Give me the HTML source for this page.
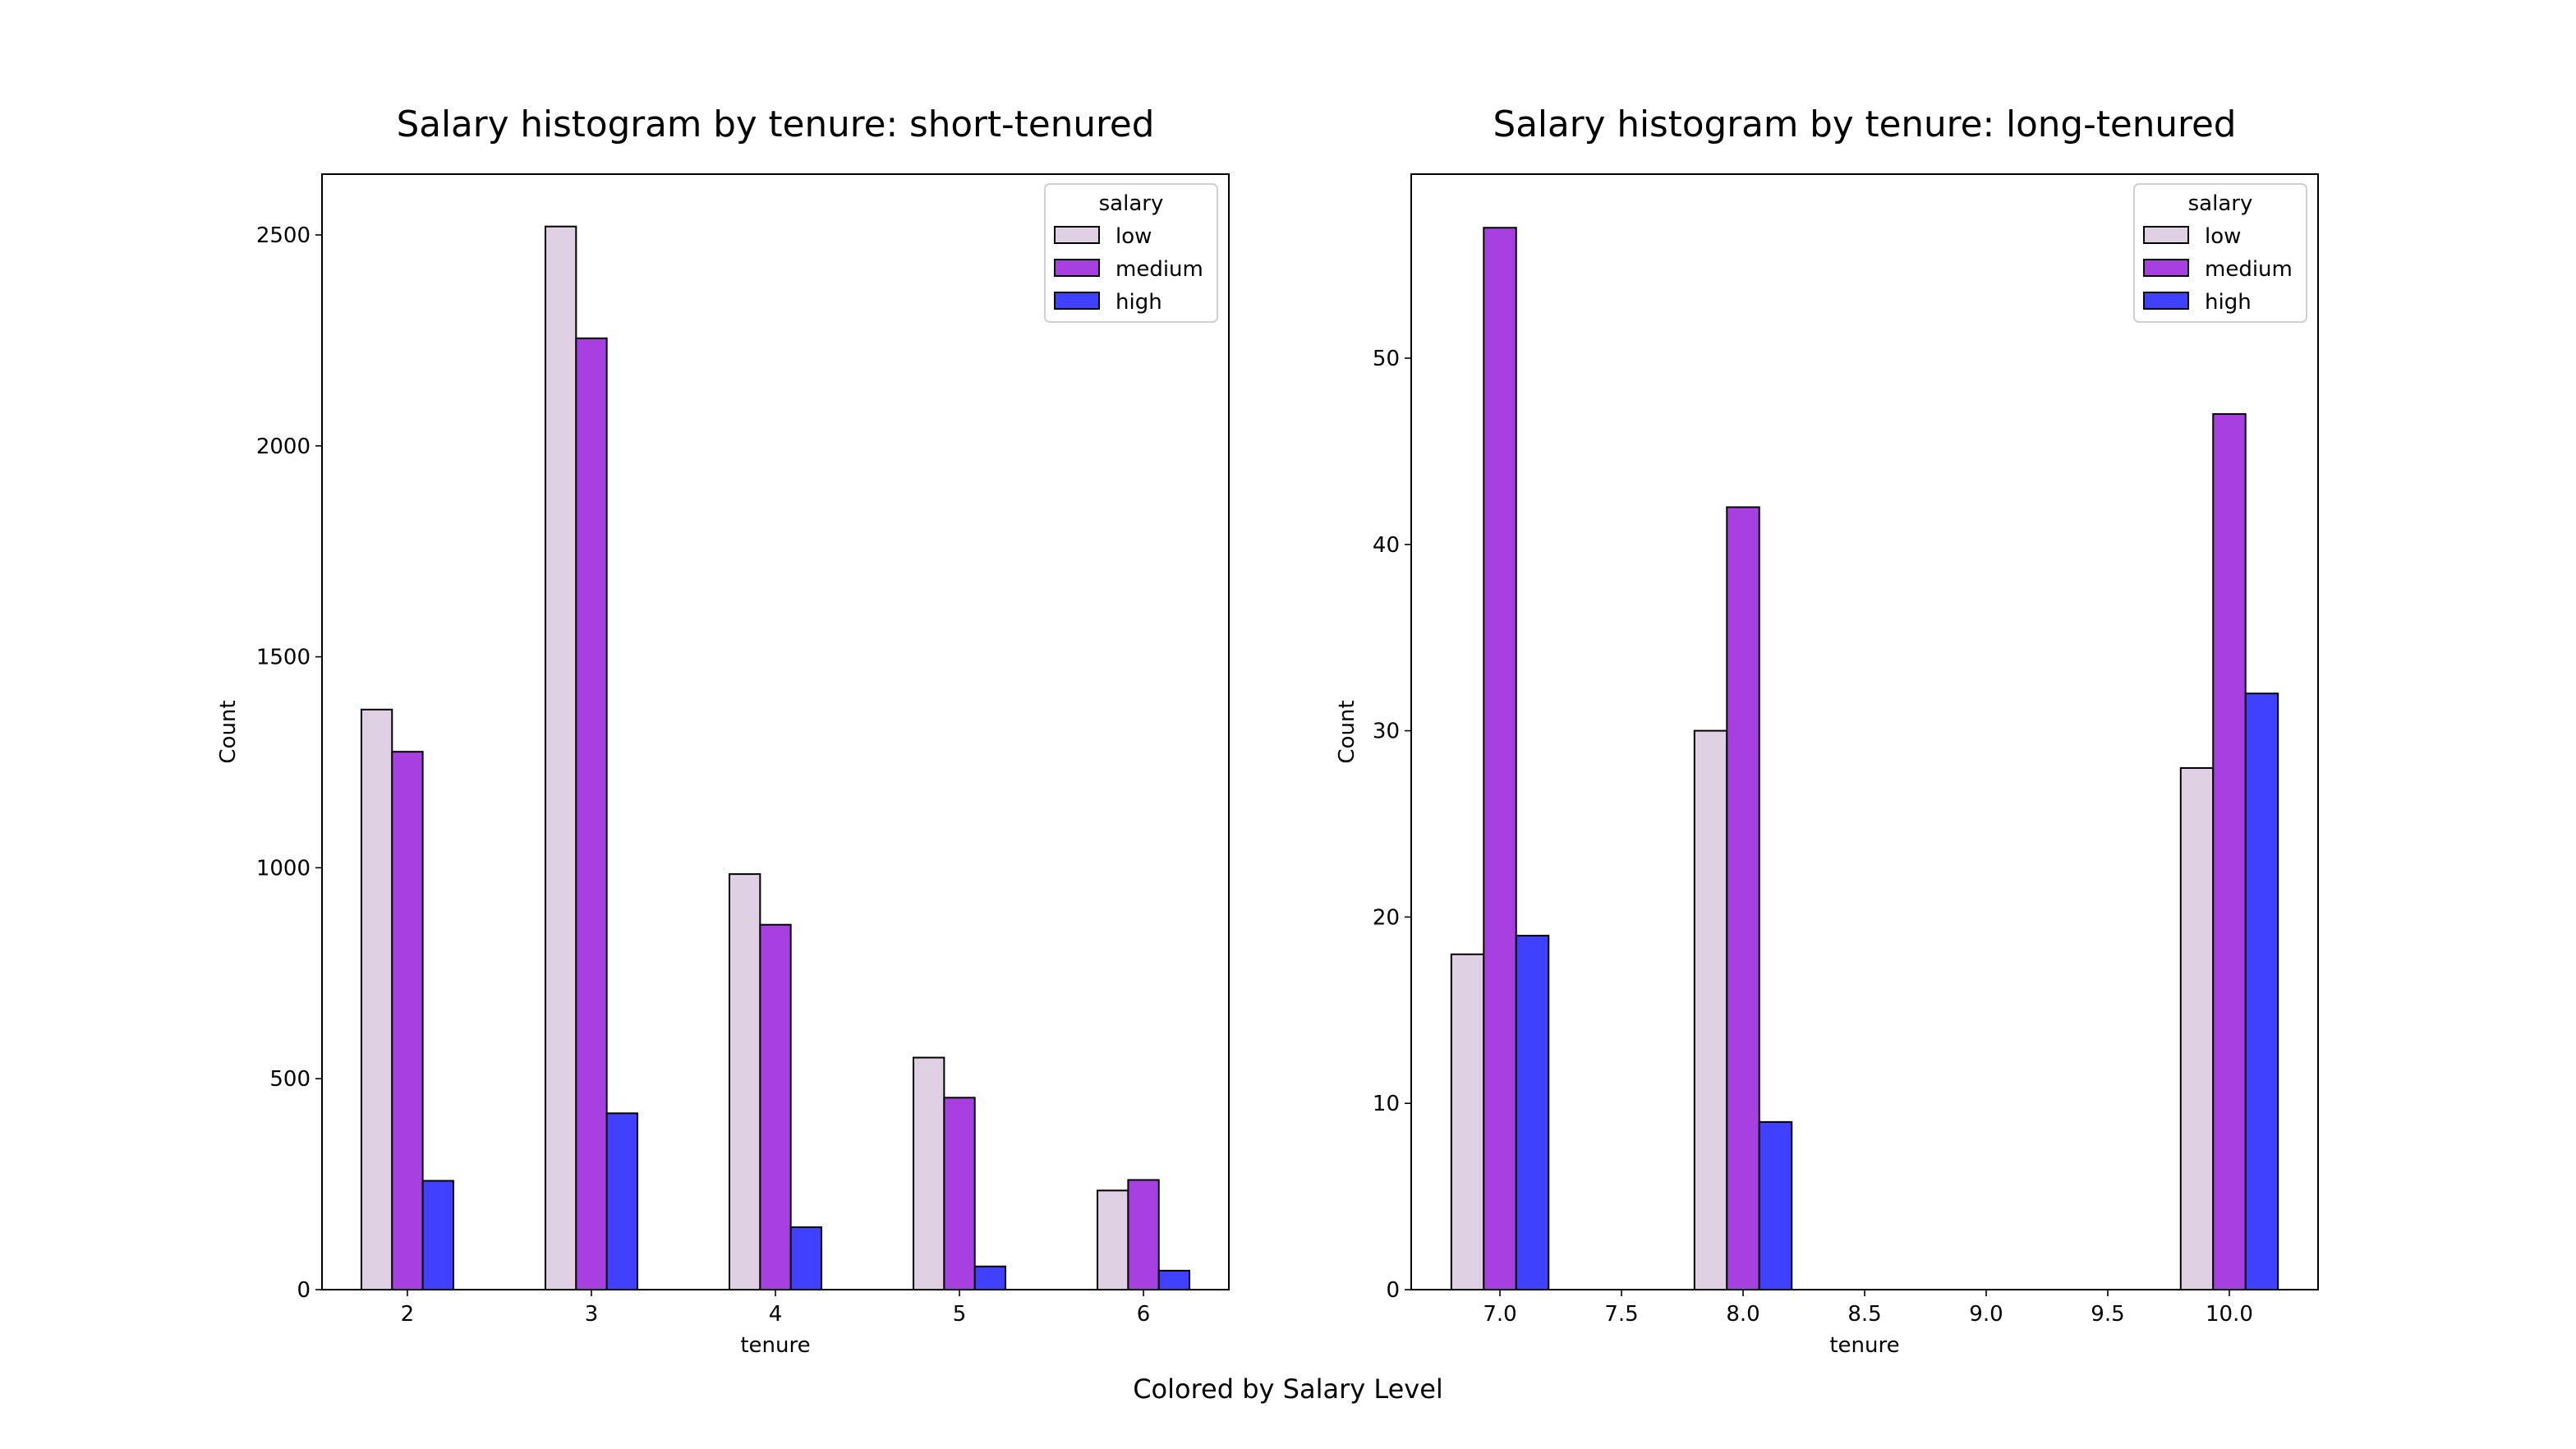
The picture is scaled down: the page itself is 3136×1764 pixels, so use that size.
<!DOCTYPE html>
<html><head><meta charset="utf-8"><style>html,body{margin:0;padding:0;background:#fff}svg{display:block}</style></head>
<body>
<svg id="fig" xmlns="http://www.w3.org/2000/svg" width="3136" height="1764" viewBox="0 0 1568 882" font-family="DejaVu Sans, Liberation Sans, sans-serif">
<rect width="1568" height="882" fill="#fff"/>
<text x="784" y="851" text-anchor="middle" font-size="16">Colored by Salary Level</text>
</svg>
<script>
const leftTenure=[2,3,4,5,6];
const leftLow=[1375,2520,985,550,235];
const leftMedium=[1275,2255,865,455,260];
const leftHigh=[258,418,148,55,45];
const leftYTicks=[0,500,1000,1500,2000,2500];
const leftXTicks=[2,3,4,5,6];
const rightTenure=[7,8,10];
const rightLow=[18,30,28];
const rightMedium=[57,42,47];
const rightHigh=[19,9,32];
const rightYTicks=[0,10,20,30,40,50];
const rightXTicks=[7.0,7.5,8.0,8.5,9.0,9.5,10.0];
const seriesNames=['low','medium','high'];
const colors=['#e0d0e3','#a83fe0','#4040ff'];
const NS='http://www.w3.org/2000/svg';
const svg=document.getElementById('fig');
function mk(tag,attrs,parent){const e=document.createElementNS(NS,tag);for(const k in attrs)e.setAttribute(k,attrs[k]);(parent||svg).appendChild(e);return e;}
function panel(cfg){
  const g=mk('g',{});
  
  
  const L=cfg.x0,R=cfg.x1,T=106,B=785;
  const sx=v=>L+(v-cfg.xmin)/(cfg.xmax-cfg.xmin)*(R-L);
  const sy=v=>B-(v/cfg.ymax)*(B-cfg.yTop);
  const series=[cfg.low,cfg.med,cfg.high];
  const bw=cfg.groupW/3;
  cfg.cats.forEach((c,i)=>{
    series.forEach((s,j)=>{
      const x=sx(c-cfg.groupW/2+j*bw), x2=sx(c-cfg.groupW/2+(j+1)*bw);
      const r=mk('rect',{x:x,y:sy(s[i]),width:x2-x,height:B-sy(s[i]),fill:colors[j],stroke:'#000','stroke-width':1},g);
      
      
    });
  });
  const fr=mk('rect',{x:L,y:T,width:R-L,height:B-T,fill:'none',stroke:'#000','stroke-width':1},g);
  
  
  cfg.yticks.forEach(v=>{
    mk('line',{x1:L-4,x2:L,y1:sy(v),y2:sy(v),stroke:'#000','stroke-width':0.8},g);
    const t=mk('text',{x:L-7,y:sy(v)+4.5,'text-anchor':'end','font-size':13},g);
    t.textContent=v;
    
    
  });
  cfg.xticks.forEach(v=>{
    mk('line',{x1:sx(v),x2:sx(v),y1:B,y2:B+4,stroke:'#000','stroke-width':0.8},g);
    const t=mk('text',{x:sx(v),y:B+19,'text-anchor':'middle','font-size':13},g);
    t.textContent=cfg.fmt(v);
    
    
  });
  const xt=mk('text',{x:(L+R)/2,y:823,'text-anchor':'middle','font-size':13},g);
  xt.textContent='tenure';
  
  
  const yt=mk('text',{x:0,y:0,'text-anchor':'middle','font-size':13,transform:`translate(${cfg.ylabX},${(T+B)/2}) rotate(-90)`},g);
  yt.textContent='Count';
  
  
  const ti=mk('text',{x:(L+R)/2,y:83,'text-anchor':'middle','font-size':21.8},g);
  ti.textContent=cfg.title;
  
  
  const lg=mk('g',{},g);
  
  
  const lx=R-112,ly=112;
  mk('rect',{x:lx,y:ly,width:105,height:84,rx:3,fill:'#fff',stroke:'#d0d0d0','stroke-width':1},lg);
  const lt=mk('text',{x:lx+52.5,y:ly+16,'text-anchor':'middle','font-size':13},lg);
  lt.textContent='salary';
  seriesNames.forEach((n,j)=>{
    const e=mk('g',{},lg);
    
    
    mk('rect',{x:lx+6,y:ly+26+j*20,width:27,height:10,fill:colors[j],stroke:'#000','stroke-width':1},e);
    const tx=mk('text',{x:lx+43,y:ly+36+j*20,'font-size':13},e);
    tx.textContent=n;
  });
}
panel({name:'short-tenured-panel',x0:196,x1:748,xmin:1.536,xmax:6.464,yTop:143,ymax:2500,groupW:0.5,
  cats:leftTenure,low:leftLow,med:leftMedium,high:leftHigh,yticks:leftYTicks,xticks:leftXTicks,fmt:v=>String(v),
  ylabX:143,title:'Salary histogram by tenure: short-tenured'});
panel({name:'long-tenured-panel',x0:859,x1:1411,xmin:6.635,xmax:10.365,yTop:218,ymax:50,groupW:0.4,
  cats:rightTenure,low:rightLow,med:rightMedium,high:rightHigh,yticks:rightYTicks,xticks:rightXTicks,fmt:v=>v.toFixed(1),
  ylabX:824,title:'Salary histogram by tenure: long-tenured'});
</script>
</body></html>
